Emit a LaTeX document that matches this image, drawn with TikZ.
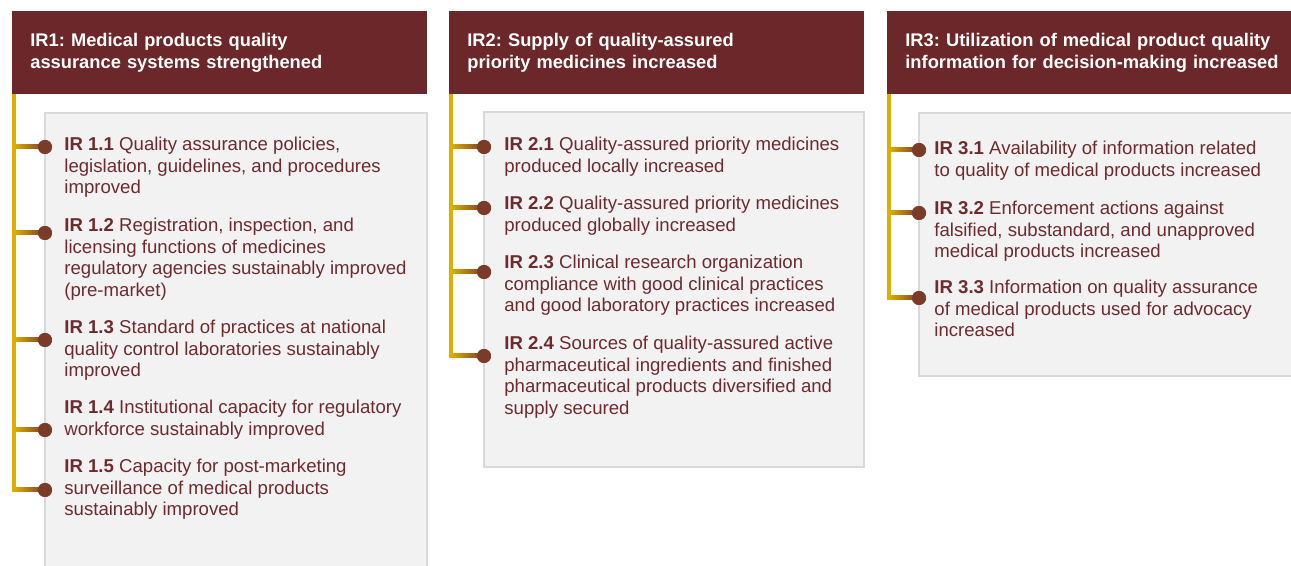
\documentclass[tikz,border=0pt]{standalone}
\usepackage{fontspec}
\setmainfont{Liberation Sans}
\usetikzlibrary{calc}
\definecolor{irhead}{HTML}{6B2729}
\definecolor{irtext}{HTML}{6E2B2E}
\definecolor{irgold}{HTML}{DDB000}
\definecolor{irdot}{HTML}{7A3B28}
\definecolor{irpanel}{HTML}{F2F2F2}
\definecolor{irframe}{HTML}{D9D9D9}
\tikzset{
  header/.style={fill=irhead, text=white, anchor=north west, align=left,
    inner xsep=9pt, inner ysep=0pt, minimum height=41.5pt,
    font=\fontsize{9.15}{10.75}\selectfont\bfseries\frenchspacing},
  panel/.style={fill=irpanel, draw=irframe, line width=0.75pt},
  spine/.style={draw=irgold, line width=2pt},
  conn/.style={left color=irgold, right color=irdot},
  bead/.style={circle, fill=irdot, inner sep=0pt, minimum size=7pt},
  itemtext/.style={anchor=north west, align=left, inner sep=0pt, text=irtext,
    font=\fontsize{9.3}{10.75}\selectfont}
}
\begin{document}
\begin{tikzpicture}[x=0.5pt,y=-0.5pt]
%one unit = one pixel of the 1291x566 layout, y runs downwards
\newcommand{\lw}{2}
\useasboundingbox (0,0) rectangle (1291,566);

%panels
\draw[panel] (45,113) rectangle (427,580);
\draw[panel] (484,112) rectangle (864,467);
\draw[panel] (919,113) rectangle (1300,376);

%headers (the third one runs off the right edge)
\node[header, text width=189.5pt] (hdr1) at (12,11)
  {IR1: Medical products quality\\assurance systems strengthened};
\node[header, text width=189.5pt] (hdr2) at (449,11)
  {IR2: Supply of quality-assured\\priority medicines increased};
\node[header, text width=196pt] (hdr3) at (887,11)
  {IR3: Utilization of medical product quality\\information for decision-making increased};

%IR1 column
\coordinate (top1) at (14,94);
\coordinate (j11) at (14,147);
\coordinate (j12) at (14,233);
\coordinate (j13) at (14,340);
\coordinate (j14) at (14,430);
\coordinate (j15) at (14,490);
\node[bead] (d11) at (45,147) {};
\node[bead] (d12) at (45,233) {};
\node[bead] (d13) at (45,340) {};
\node[bead] (d14) at (45,430) {};
\node[bead] (d15) at (45,490) {};
\draw[spine] (top1) -- ($(j15)+(0,\lw)$);
\shade[conn] ($(j11)+(0,-\lw)$) rectangle ($(d11.center)+(0,\lw)$);
\shade[conn] ($(j12)+(0,-\lw)$) rectangle ($(d12.center)+(0,\lw)$);
\shade[conn] ($(j13)+(0,-\lw)$) rectangle ($(d13.center)+(0,\lw)$);
\shade[conn] ($(j14)+(0,-\lw)$) rectangle ($(d14.center)+(0,\lw)$);
\shade[conn] ($(j15)+(0,-\lw)$) rectangle ($(d15.center)+(0,\lw)$);
\node[bead] at (d11) {};
\node[bead] at (d12) {};
\node[bead] at (d13) {};
\node[bead] at (d14) {};
\node[bead] at (d15) {};
\node[itemtext] (ir11) at (64,137) {\textbf{IR 1.1} Quality assurance policies,\\legislation, guidelines, and procedures\\improved};
\node[itemtext] (ir12) at (64,218) {\textbf{IR 1.2} Registration, inspection, and\\licensing functions of medicines\\regulatory agencies sustainably improved\\(pre-market)};
\node[itemtext] (ir13) at (64,320) {\textbf{IR 1.3} Standard of practices at national\\quality control laboratories sustainably\\improved};
\node[itemtext] (ir14) at (64,400) {\textbf{IR 1.4} Institutional capacity for regulatory\\workforce sustainably improved};
\node[itemtext] (ir15) at (64,459) {\textbf{IR 1.5} Capacity for post-marketing\\surveillance of medical products\\sustainably improved};

%IR2 column
\coordinate (top2) at (451,94);
\coordinate (j21) at (451,147);
\coordinate (j22) at (451,208);
\coordinate (j23) at (451,272);
\coordinate (j24) at (451,356);
\node[bead] (d21) at (484,147) {};
\node[bead] (d22) at (484,208) {};
\node[bead] (d23) at (484,272) {};
\node[bead] (d24) at (484,356) {};
\draw[spine] (top2) -- ($(j24)+(0,\lw)$);
\shade[conn] ($(j21)+(0,-\lw)$) rectangle ($(d21.center)+(0,\lw)$);
\shade[conn] ($(j22)+(0,-\lw)$) rectangle ($(d22.center)+(0,\lw)$);
\shade[conn] ($(j23)+(0,-\lw)$) rectangle ($(d23.center)+(0,\lw)$);
\shade[conn] ($(j24)+(0,-\lw)$) rectangle ($(d24.center)+(0,\lw)$);
\node[bead] at (d21) {};
\node[bead] at (d22) {};
\node[bead] at (d23) {};
\node[bead] at (d24) {};
\node[itemtext] (ir21) at (504,137) {\textbf{IR 2.1} Quality-assured priority medicines\\produced locally increased};
\node[itemtext] (ir22) at (504,196) {\textbf{IR 2.2} Quality-assured priority medicines\\produced globally increased};
\node[itemtext] (ir23) at (504,255) {\textbf{IR 2.3} Clinical research organization\\compliance with good clinical practices\\and good laboratory practices increased};
\node[itemtext] (ir24) at (504,336) {\textbf{IR 2.4} Sources of quality-assured active\\pharmaceutical ingredients and finished\\pharmaceutical products diversified and\\supply secured};

%IR3 column
\coordinate (top3) at (889,94);
\coordinate (j31) at (889,150);
\coordinate (j32) at (889,213);
\coordinate (j33) at (889,298);
\node[bead] (d31) at (919,150) {};
\node[bead] (d32) at (919,213) {};
\node[bead] (d33) at (919,298) {};
\draw[spine] (top3) -- ($(j33)+(0,\lw)$);
\shade[conn] ($(j31)+(0,-\lw)$) rectangle ($(d31.center)+(0,\lw)$);
\shade[conn] ($(j32)+(0,-\lw)$) rectangle ($(d32.center)+(0,\lw)$);
\shade[conn] ($(j33)+(0,-\lw)$) rectangle ($(d33.center)+(0,\lw)$);
\node[bead] at (d31) {};
\node[bead] at (d32) {};
\node[bead] at (d33) {};
\node[itemtext] (ir31) at (934,141) {\textbf{IR 3.1} Availability of information related\\to quality of medical products increased};
\node[itemtext] (ir32) at (934,201) {\textbf{IR 3.2} Enforcement actions against\\falsified, substandard, and unapproved\\medical products increased};
\node[itemtext] (ir33) at (934,280) {\textbf{IR 3.3} Information on quality assurance\\of medical products used for advocacy\\increased};
\end{tikzpicture}
\end{document}
